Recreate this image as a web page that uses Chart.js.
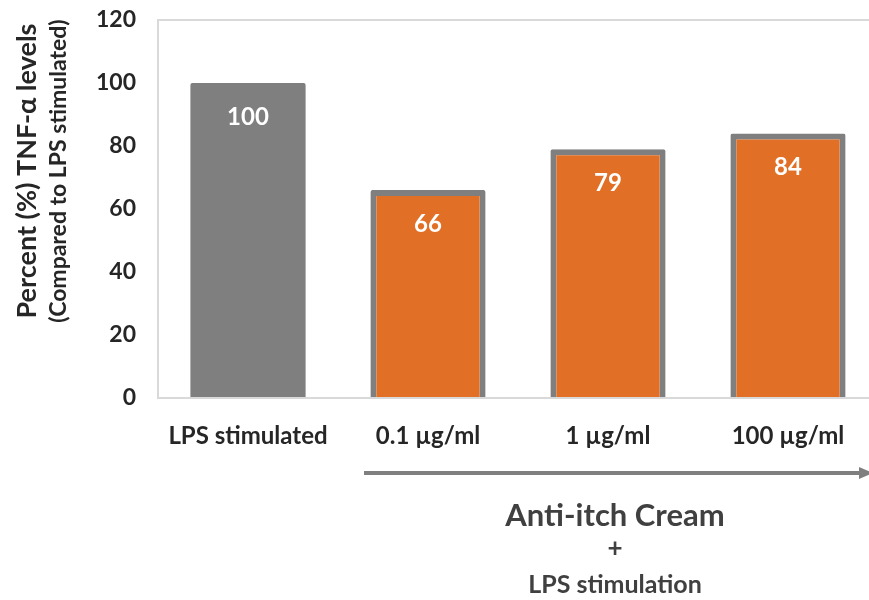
<!DOCTYPE html>
<html>
<head>
<meta charset="utf-8">
<script src="https://cdn.jsdelivr.net/npm/chart.js@4.4.1/dist/chart.umd.min.js"></script>
<style>
  html, body { margin: 0; padding: 0; background: #fff; overflow: hidden; }
  #wrap { width: 882px; height: 600px; }
</style>
</head>
<body>
<div id="wrap"><canvas id="tnfChart" width="882" height="600"></canvas></div>
<script>
// chart values
var categories = ['LPS stimulated', '0.1 \u00b5g/ml', '1 \u00b5g/ml', '100 \u00b5g/ml'];
var tnfLevels = [100, 66, 79, 84];
var yTicks = [0, 20, 40, 60, 80, 100, 120];

var FONT = 'Lato, "Open Sans", sans-serif';
var GREY = '#7f7f7f';
var ORANGE = '#e26f26';

// white value labels inside the top of each bar
var barLabels = {
  id: 'barLabels',
  afterDatasetsDraw: function(chart) {
    var ctx = chart.ctx;
    var meta = chart.getDatasetMeta(0);
    ctx.save();
    ctx.fillStyle = '#ffffff';
    ctx.font = 'bold 24px ' + FONT;
    ctx.textAlign = 'center';
    ctx.textBaseline = 'middle';
    meta.data.forEach(function(bar, i) {
      ctx.fillText(String(tnfLevels[i]), bar.x, bar.y + 34);
    });
    ctx.restore();
  }
};

// rotated two-line y title, arrow and caption below the axis
var extras = {
  id: 'extras',
  afterDraw: function(chart) {
    var ctx = chart.ctx;
    var area = chart.chartArea;
    var x = chart.scales.x;
    var midY = (area.top + area.bottom) / 2 - 38;

    ctx.save();
    ctx.fillStyle = '#262626';
    ctx.textAlign = 'center';
    ctx.textBaseline = 'middle';
    ctx.translate(27, midY);
    ctx.rotate(-Math.PI / 2);
    ctx.font = 'bold 27px ' + FONT;
    ctx.fillText('Percent (%) TNF-\u03b1 levels', 0, 0);
    ctx.font = 'bold 23px ' + FONT;
    ctx.fillText('(Compared to LPS stimulated)', 0, 32);
    ctx.restore();

    // arrow under the cream concentrations
    var ay = area.bottom + 75;
    var ax0 = x.getPixelForValue(1) - 64;
    var ax1 = 869;
    ctx.save();
    ctx.strokeStyle = GREY;
    ctx.fillStyle = GREY;
    ctx.lineWidth = 4;
    ctx.beginPath();
    ctx.moveTo(ax0, ay);
    ctx.lineTo(ax1 - 8, ay);
    ctx.stroke();
    ctx.beginPath();
    ctx.moveTo(ax1 - 10, ay - 6);
    ctx.lineTo(ax1 + 4, ay);
    ctx.lineTo(ax1 - 10, ay + 6);
    ctx.closePath();
    ctx.fill();

    var cx = (x.getPixelForValue(1) + x.getPixelForValue(3)) / 2 + 7;
    ctx.fillStyle = '#404040';
    ctx.textAlign = 'center';
    ctx.textBaseline = 'middle';
    ctx.font = 'bold 31px ' + FONT;
    ctx.fillText('Anti-itch Cream', cx, area.bottom + 118);
    ctx.font = 'bold 26px ' + FONT;
    ctx.fillText('+', cx, area.bottom + 151);
    ctx.font = 'bold 25px ' + FONT;
    ctx.fillText('LPS stimulation', cx, area.bottom + 187);
    ctx.restore();
  }
};

new Chart(document.getElementById('tnfChart'), {
  type: 'bar',
  data: {
    labels: categories,
    datasets: [{
      data: tnfLevels,
      backgroundColor: [GREY, ORANGE, ORANGE, ORANGE],
      borderColor: GREY,
      borderWidth: [0, 6, 6, 6],
      borderRadius: 2,
      borderSkipped: 'bottom',
      categoryPercentage: 1,
      barPercentage: 0.64
    }]
  },
  options: {
    responsive: false,
    animation: false,
    layout: { padding: { top: 20, right: 4, bottom: 0, left: 0 } },
    plugins: {
      legend: { display: false },
      tooltip: { enabled: false }
    },
    scales: {
      x: {
        grid: { display: false },
        border: { color: '#d9d9d9', width: 2 },
        ticks: {
          color: '#262626',
          font: { family: FONT, size: 24, weight: 'bold' },
          padding: 16
        },
        afterFit: function(scale) { scale.height = 202; }
      },
      y: {
        min: 0,
        max: 120,
        afterBuildTicks: function(scale) {
          scale.ticks = yTicks.map(function(v) { return { value: v }; });
        },
        grid: {
          drawTicks: false,
          lineWidth: 2,
          color: function(c) { return c.tick && c.tick.value === 120 ? '#d9d9d9' : 'rgba(0,0,0,0)'; }
        },
        border: { color: '#d9d9d9', width: 2 },
        ticks: {
          color: '#262626',
          font: { family: FONT, size: 23, weight: 'bold' },
          padding: 22
        },
        afterFit: function(scale) {
          scale.width = 158;
          scale.paddingTop = 0;
          scale.paddingBottom = 0;
        }
      }
    }
  },
  plugins: [barLabels, extras]
});
</script>
</body>
</html>
